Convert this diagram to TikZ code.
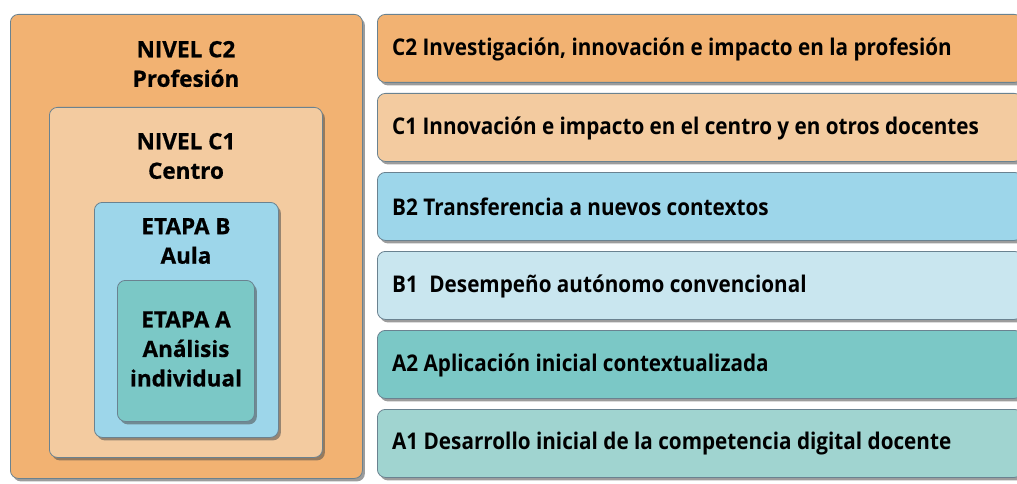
\documentclass[tikz,border=0pt]{standalone}
\usepackage{fontspec}
\setmainfont{Open Sans}
\newfontfamily\barfont[FakeStretch=0.9]{Open Sans}
\newfontfamily\lvlfont[FakeBold=0.6]{Open Sans}
\usetikzlibrary{shadows}
\definecolor{cTwo}{HTML}{F2B272}
\definecolor{cOne}{HTML}{F3CBA0}
\definecolor{bTwo}{HTML}{9DD6EA}
\definecolor{bOne}{HTML}{C9E6EF}
\definecolor{aTwo}{HTML}{7BC8C6}
\definecolor{aOne}{HTML}{A0D4D0}
\definecolor{edge}{HTML}{6A8290}
\tikzset{
  box/.style={draw=edge, line width=0.8pt, rounded corners=8pt, anchor=north west, inner sep=0pt,
    drop shadow={shadow xshift=2.5pt, shadow yshift=-3pt, opacity=0.55, fill=black!70}},
  bar/.style={box, minimum width=645pt, minimum height=68pt},
  bartext/.style={anchor=west, font=\barfont\fontsize{23}{26}\selectfont\bfseries, inner sep=0pt},
  lvl/.style={align=center, font=\lvlfont\fontsize{22.5}{29.5}\selectfont\bfseries, inner sep=0pt}
}
\begin{document}
\begin{tikzpicture}[x=1pt,y=-1pt]
\useasboundingbox[fill=white] (0,0) rectangle (1017,484);
\clip (0,0) rectangle (1017,484);
% left nested boxes
\node[box, fill=cTwo, minimum width=352pt, minimum height=464pt] (nc2) at (10,14) {};
\node[box, fill=cOne, minimum width=273pt, minimum height=350pt] (nc1) at (49,107) {};
\node[box, fill=bTwo, minimum width=184pt, minimum height=235pt] (eb) at (94,202) {};
\node[box, fill=aTwo, minimum width=137pt, minimum height=141pt] (ea) at (117,280) {};
\node[lvl] (tc2) at (186,64) {NIVEL C2\\Profesión};
\node[lvl] (tc1) at (186,156) {NIVEL C1\\Centro};
\node[lvl] (tb) at (186,241) {ETAPA B\\Aula};
\node[lvl] (ta) at (186,349) {ETAPA A\\Análisis\\individual};
% right bars
\node[bar, fill=cTwo] (r1) at (377,14) {};
\node[bar, fill=cOne] (r2) at (377,93) {};
\node[bar, fill=bTwo] (r3) at (377,172) {};
\node[bar, fill=bOne] (r4) at (377,251) {};
\node[bar, fill=aTwo] (r5) at (377,330) {};
\node[bar, fill=aOne] (r6) at (377,409) {};
\node[bartext] (t1) at (392,49) {C2 Investigación, innovación e impacto en la profesión};
\node[bartext] (t2) at (392,128) {C1 Innovación e impacto en el centro y en otros docentes};
\node[bartext] (t3) at (392,207) {B2 Transferencia a nuevos contextos};
\node[bartext] (t4) at (392,286) {B1\hspace{0.5em}Desempeño autónomo convencional};
\node[bartext] (t5) at (392,365) {A2 Aplicación inicial contextualizada};
\node[bartext] (t6) at (392,444) {A1 Desarrollo inicial de la competencia digital docente};
\end{tikzpicture}
\end{document}
